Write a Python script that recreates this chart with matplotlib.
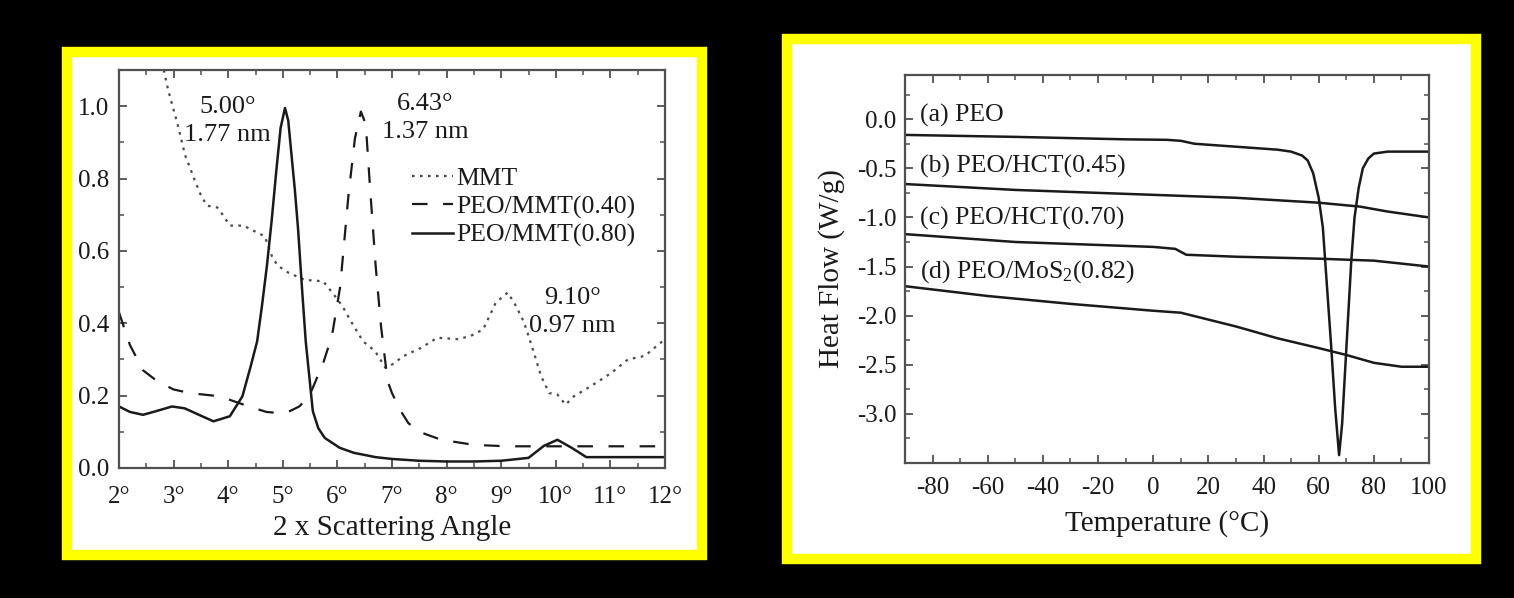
import matplotlib
matplotlib.use("Agg")
import matplotlib.pyplot as plt
from matplotlib.patches import Rectangle
from matplotlib.ticker import MultipleLocator, FixedLocator

plt.rcParams['font.family'] = ['Liberation Serif', 'DejaVu Serif']
plt.rcParams['axes.unicode_minus'] = False
plt.rcParams['mathtext.fontset'] = 'custom'
plt.rcParams['mathtext.rm'] = 'Liberation Serif'
plt.rcParams['mathtext.it'] = 'Liberation Serif:italic'

# ---------------- Left panel data (XRD) ----------------
mmt_x = [2.82, 2.9, 3.0, 3.06, 3.21, 3.3, 3.4, 3.5, 3.61, 3.8, 3.9, 4.03, 4.28, 4.46, 4.67,
         4.8, 4.9, 5.1, 5.4, 5.74, 5.93, 6.09, 6.23, 6.47, 6.69, 6.88, 7.0, 7.22, 7.53, 7.83,
         8.21, 8.44, 8.67, 8.9, 9.12, 9.27, 9.42, 9.58, 9.73, 9.88, 10.03, 10.18, 10.33,
         10.64, 11.02, 11.32, 11.63, 12.0]
mmt_y = [1.1, 1.045, 0.99, 0.958, 0.865, 0.83, 0.79, 0.754, 0.725, 0.72, 0.70, 0.67, 0.67,
         0.656, 0.64, 0.586, 0.56, 0.54, 0.52, 0.516, 0.48, 0.448, 0.41, 0.35, 0.323, 0.277,
         0.286, 0.31, 0.332, 0.36, 0.356, 0.365, 0.383, 0.457, 0.485, 0.448, 0.402, 0.328,
         0.254, 0.207, 0.203, 0.175, 0.198, 0.226, 0.263, 0.30, 0.31, 0.356]

peo040_x = [2.0, 2.2, 2.44, 2.7, 3.0, 3.3, 3.73, 4.0, 4.38, 4.7, 4.91, 5.1, 5.3, 5.48, 5.74,
            5.9, 6.05, 6.2, 6.32, 6.43, 6.52, 6.6, 6.7, 6.8, 6.92, 7.0, 7.15, 7.3, 7.5, 7.9,
            8.5, 9.1, 10.0, 11.0, 12.0]
peo040_y = [0.43, 0.34, 0.27, 0.24, 0.217, 0.207, 0.2, 0.19, 0.17, 0.155, 0.152, 0.155, 0.17,
            0.197, 0.29, 0.365, 0.5, 0.75, 0.91, 0.985, 0.95, 0.77, 0.56, 0.39, 0.24, 0.207,
            0.16, 0.124, 0.1, 0.078, 0.064, 0.06, 0.06, 0.06, 0.06]

peo080_x = [2.0, 2.2, 2.44, 2.7, 2.97, 3.2, 3.45, 3.73, 4.03, 4.26, 4.41, 4.53, 4.62, 4.71,
            4.8, 4.88, 4.96, 5.04, 5.1, 5.15, 5.22, 5.28, 5.35, 5.42, 5.55, 5.65, 5.77, 6.04,
            6.3, 6.7, 7.0, 7.5, 8.0, 8.5, 9.0, 9.5, 9.78, 10.03, 10.3, 10.56, 11.0, 11.5, 12.0]
peo080_y = [0.17, 0.155, 0.147, 0.158, 0.17, 0.165, 0.148, 0.129, 0.143, 0.198, 0.28, 0.35,
            0.45, 0.56, 0.69, 0.82, 0.94, 0.995, 0.96, 0.88, 0.77, 0.66, 0.5, 0.35, 0.157,
            0.11, 0.083, 0.056, 0.042, 0.03, 0.025, 0.02, 0.018, 0.018, 0.02, 0.028, 0.061,
            0.078, 0.055, 0.03, 0.03, 0.03, 0.03]

xrd_labels = ["MMT", "PEO/MMT(0.40)", "PEO/MMT(0.80)"]
xrd_ticks = [2, 3, 4, 5, 6, 7, 8, 9, 10, 11, 12]
xrd_ticklabels = ["2°", "3°", "4°", "5°", "6°", "7°", "8°", "9°", "10°", "11°", "12°"]
xrd_yticks = [0.0, 0.2, 0.4, 0.6, 0.8, 1.0]
xrd_notes = [("5.00°\n1.77 nm", 3.99, 0.96), ("6.43°\n1.37 nm", 7.61, 0.967),
             ("9.10°\n0.97 nm", 10.3, 0.432)]

# ---------------- Right panel data (DSC) ----------------
peo_x = [-90, -50, -10, 5, 10, 15, 30, 45, 50, 54, 56, 58, 60, 61.5, 63, 64.5, 66, 67.4,
         68.5, 69.5, 70.5, 71.8, 73, 74.5, 76, 78, 80, 85, 100]
peo_y = [-0.16, -0.18, -0.205, -0.21, -0.22, -0.25, -0.28, -0.31, -0.33, -0.37, -0.42,
         -0.55, -0.8, -1.1, -1.7, -2.3, -2.95, -3.42, -3.1, -2.6, -2.1, -1.45, -1.0, -0.7,
         -0.5, -0.4, -0.35, -0.33, -0.33]
hct045_x = [-90, -50, 0, 30, 60, 75, 85, 100]
hct045_y = [-0.66, -0.72, -0.77, -0.80, -0.85, -0.89, -0.94, -1.0]
hct070_x = [-90, -50, 0, 8, 12, 30, 60, 80, 90, 100]
hct070_y = [-1.17, -1.25, -1.30, -1.32, -1.38, -1.40, -1.42, -1.44, -1.47, -1.50]
mos2_x = [-90, -60, -30, 0, 10, 20, 30, 45, 60, 70, 80, 90, 100]
mos2_y = [-1.70, -1.80, -1.88, -1.95, -1.97, -2.04, -2.11, -2.23, -2.33, -2.40, -2.48,
          -2.52, -2.52]
dsc_labels = ["(a) PEO", "(b) PEO/HCT(0.45)", "(c) PEO/HCT(0.70)", "(d) PEO/MoS$_2$(0.82)"]
dsc_label_y = [0.04, -0.48, -1.01, -1.55]
dsc_xticks = [-80, -60, -40, -20, 0, 20, 40, 60, 80, 100]
dsc_yticks = [0.0, -0.5, -1.0, -1.5, -2.0, -2.5, -3.0]

# ---------------- Figure ----------------
W, H = 1514, 598
fig = plt.figure(figsize=(W / 100, H / 100), dpi=100, facecolor='black')


def px_rect(x0, y0, x1, y1):
    return (x0 / W, 1 - y1 / H, (x1 - x0) / W, (y1 - y0) / H)


for (x0, y0, x1, y1) in [(67, 52, 702, 555), (787, 39, 1476, 559)]:
    l, b, w, h = px_rect(x0, y0, x1, y1)
    fig.add_artist(Rectangle((l, b), w, h, transform=fig.transFigure, facecolor='white',
                             edgecolor='#ffff00', linewidth=7.5, zorder=0))

ink = '#1a1a1a'
spine_c = '#505050'

ax1 = fig.add_axes(px_rect(119, 70, 665, 468))
ax2 = fig.add_axes(px_rect(905, 75, 1429, 463))

for ax in (ax1, ax2):
    for s in ax.spines.values():
        s.set_color(spine_c)
        s.set_linewidth(1.6)
    ax.tick_params(which='both', direction='in', top=True, right=True, colors=spine_c,
                   labelcolor=ink, labelsize=18)
    ax.tick_params(which='major', length=6, width=1.3)
    ax.tick_params(which='minor', length=3.5, width=1.1)

# Left panel
ax1.plot(mmt_x, mmt_y, color='#4a4a4a', lw=1.6, dashes=(1.2, 2.4), label=xrd_labels[0])
ax1.plot(peo040_x, peo040_y, color=ink, lw=1.6, dashes=(7, 7), label=xrd_labels[1])
ax1.plot(peo080_x, peo080_y, color=ink, lw=1.8, label=xrd_labels[2])
ax1.set_xlim(2, 12)
ax1.set_ylim(0, 1.1)
ax1.xaxis.set_major_locator(FixedLocator(xrd_ticks))
ax1.set_xticklabels(xrd_ticklabels)
ax1.xaxis.set_minor_locator(MultipleLocator(0.5))
ax1.set_yticks(xrd_yticks)
ax1.set_yticklabels([f"{v:.1f}" for v in xrd_yticks])
ax1.yaxis.set_minor_locator(MultipleLocator(0.1))
ax1.tick_params(axis='x', pad=13)
ax1.tick_params(axis='y', pad=7)
ax1.set_xlabel("2 x Scattering Angle", fontsize=21, color=ink, labelpad=5)
for txt, xx, yy in xrd_notes:
    ax1.text(xx, yy, txt, fontsize=19, color=ink, ha='center', va='center',
             linespacing=1.35)
ax1.legend(loc='upper left', bbox_to_anchor=(0.537, 0.757), frameon=False, fontsize=18.5,
           handlelength=1.6, handletextpad=0.1, labelspacing=0.21, borderpad=0,
           borderaxespad=0, labelcolor=ink)

# Right panel
for xs, ys in [(peo_x, peo_y), (hct045_x, hct045_y), (hct070_x, hct070_y), (mos2_x, mos2_y)]:
    ax2.plot(xs, ys, color=ink, lw=1.8)
ax2.set_xlim(-90, 100)
ax2.set_ylim(-3.5, 0.45)
ax2.set_xticks(dsc_xticks)
ax2.set_xticklabels([str(v) for v in dsc_xticks])
ax2.xaxis.set_minor_locator(MultipleLocator(10))
ax2.set_yticks(dsc_yticks)
ax2.set_yticklabels([f"{v:.1f}" for v in dsc_yticks])
ax2.yaxis.set_minor_locator(MultipleLocator(0.25))
ax2.tick_params(axis='x', pad=10)
ax2.tick_params(axis='y', pad=6)
ax2.set_xlabel("Temperature (°C)", fontsize=21, color=ink, labelpad=8)
ax2.set_ylabel("Heat Flow (W/g)", fontsize=21, color=ink, labelpad=9)
for lab, yy in zip(dsc_labels, dsc_label_y):
    ax2.text(-84.5, yy, lab, fontsize=18.5, color=ink, ha='left', va='center')

fig.savefig("out.png", dpi=100, facecolor='black')
